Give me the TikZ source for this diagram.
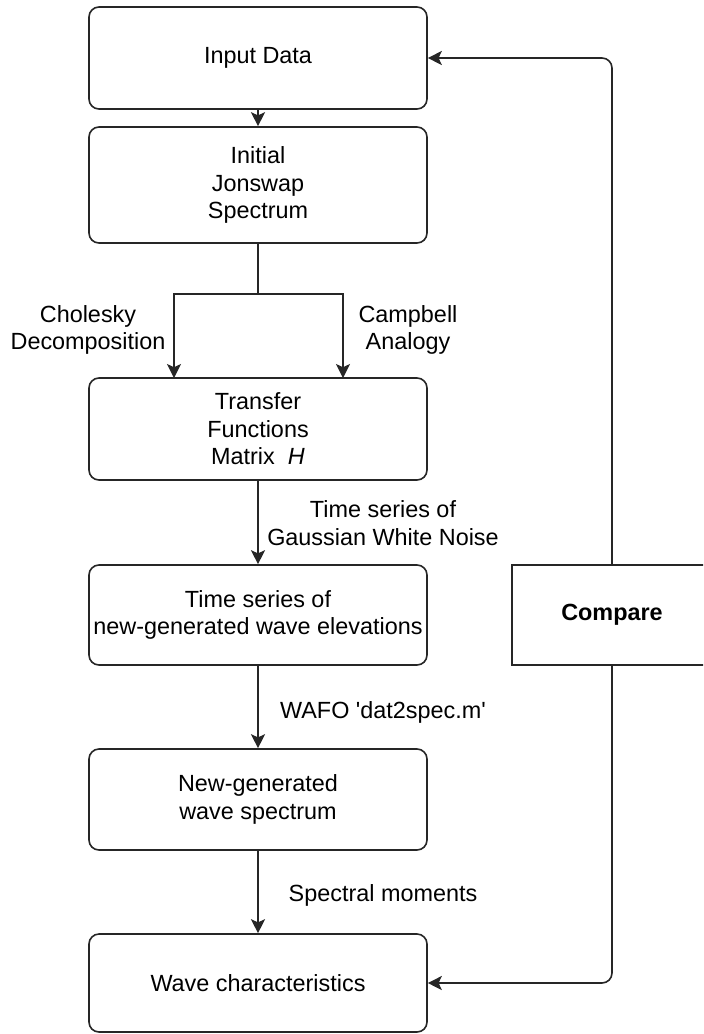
\documentclass[tikz,border=0pt]{standalone}
\usepackage{fontspec}
\setmainfont{Liberation Sans}
\usetikzlibrary{arrows.meta}
\newlength{\du}
\setlength{\du}{0.5pt}

\tikzset{
  procbox/.style={draw=black!85, rounded corners=10\du, line width=1.6\du,
    minimum width=338\du, align=center, inner sep=0pt},
  cmpbox/.style={draw=black!85, line width=1.6\du, minimum width=200\du,
    minimum height=100\du, inner sep=0pt},
  flowline/.style={draw=black!85, line width=1.6\du},
  flowarrow/.style={flowline, -{Stealth[length=7pt,width=7pt,inset=1.6pt]}},
  lbl/.style={align=center, inner sep=0pt}
}

\begin{document}
\begin{tikzpicture}[font=\fontsize{11.7pt}{13.75pt}\selectfont]
\pgftransformxscale{1.000000}
\pgftransformyscale{-1.000000}
\clip (0\du,0\du) rectangle (703\du,1034\du);
% main column
\node[procbox, minimum height=102\du] (inp) at (258\du,58\du) {Input Data};
\node[procbox, minimum height=116\du] (jon) at (258\du,185\du) {Initial\\Jonswap\\Spectrum};
\node[procbox, minimum height=102\du] (tf) at (258\du,429\du) {Transfer\\Functions\\Matrix\ \ \textit{H}};
\node[procbox, minimum height=100\du] (ts) at (258\du,615\du) {Time series of\\new-generated wave elevations};
\node[procbox, minimum height=101\du] (spec) at (258\du,799.5\du) {New-generated\\wave spectrum};
\node[procbox, minimum height=98\du] (wc) at (258\du,983\du) {Wave characteristics};
% compare box, cut by the right edge
\node[cmpbox] (cmp) at (612\du,615\du) {\textbf{Compare}};
% edge labels
\node[lbl] (chol) at (88\du,330\du) {Cholesky\\Decomposition};
\node[lbl] (camp) at (408\du,330\du) {Campbell\\Analogy};
\node[lbl] (gwn) at (383\du,523\du) {Time series of\\Gaussian White Noise};
\node[lbl] (wafo) at (383\du,712\du) {WAFO \textquotesingle dat2spec.m\textquotesingle};
\node[lbl] (mom) at (383\du,895\du) {Spectral moments};
% split below the spectrum
\coordinate (split) at (258\du,294\du);
\coordinate (cholin) at (174\du,378\du);
\coordinate (campin) at (343\du,378\du);
\draw[flowline] (jon.south) -- (split);
\draw[flowarrow] (split) -| (cholin);
\draw[flowarrow] (split) -| (campin);
% flow down
\draw[flowarrow] (inp.south) -- (jon.north);
\draw[flowarrow] (tf.south) -- (ts.north);
\draw[flowarrow] (ts.south) -- (spec.north);
\draw[flowarrow] (spec.south) -- (wc.north);
% feedback through compare
\draw[flowarrow, rounded corners=10\du] (cmp.north) |- (inp.east);
\draw[flowarrow, rounded corners=10\du] (cmp.south) |- (wc.east);
\end{tikzpicture}
\end{document}
